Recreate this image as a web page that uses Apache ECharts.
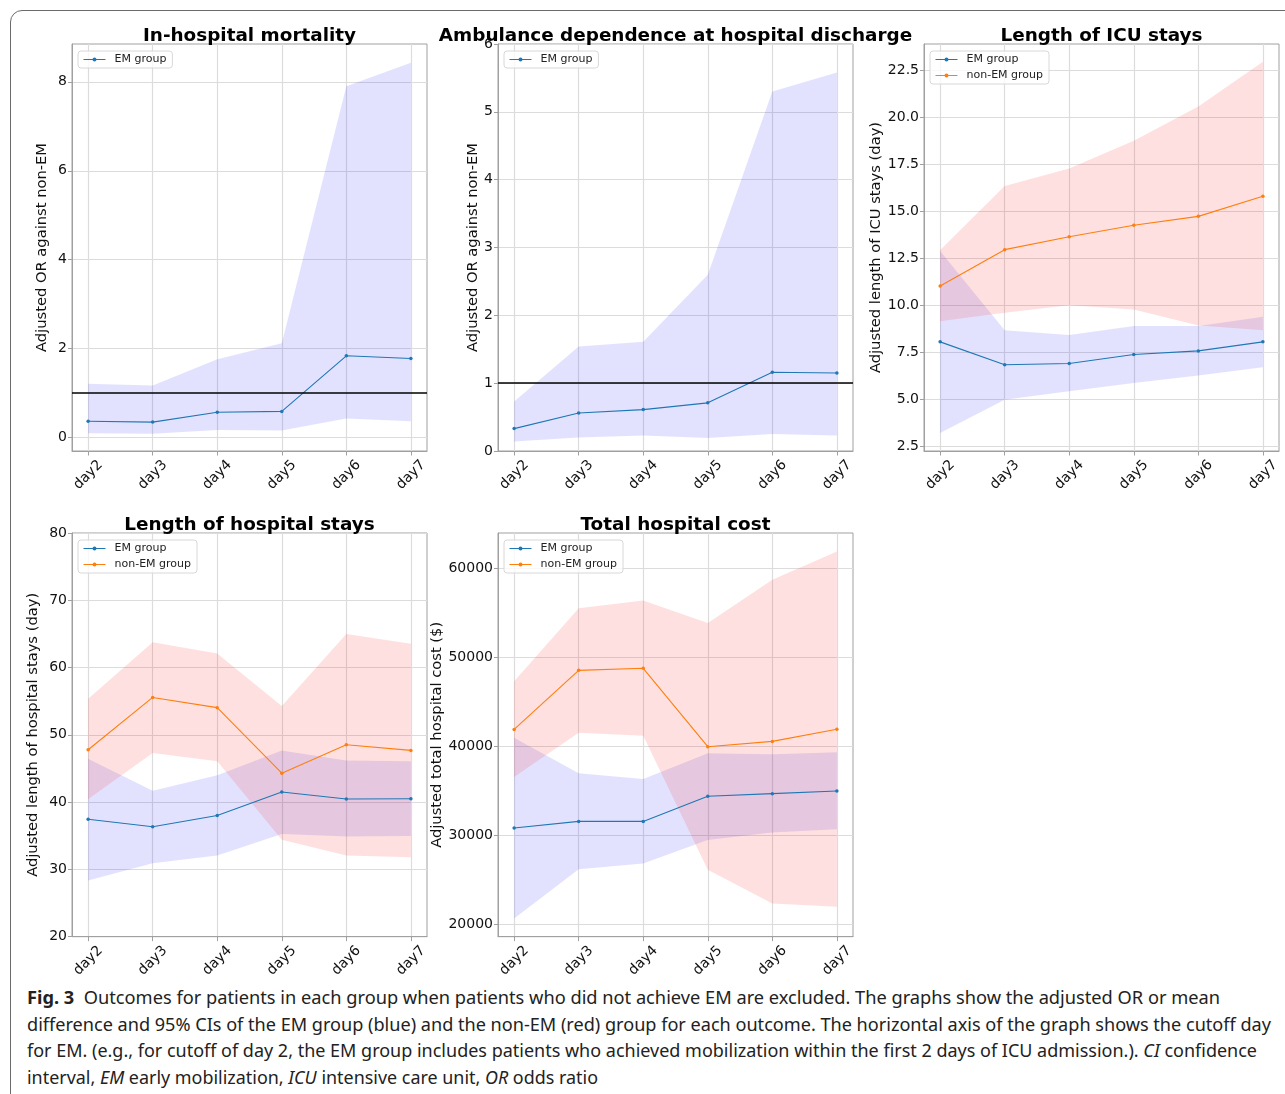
<!DOCTYPE html>
<html>
<head>
<meta charset="utf-8">
<title>Fig. 3</title>
<script src="https://cdn.jsdelivr.net/npm/echarts@6/dist/echarts.min.js"></script>
<style>
html, body { margin: 0; padding: 0; width: 1285px; height: 1094px; overflow: hidden; background: #fff; }
#frame { position: absolute; left: 10px; top: 10px; width: 1310px; height: 1120px; border: 1px solid #6b6b6b; border-radius: 12px; }
#chart { position: absolute; left: 0; top: 0; width: 1285px; height: 980px; }
#caption { position: absolute; left: 27px; top: 984px; font-family: 'Noto Sans', sans-serif; font-size: 18px; line-height: 26.6px; color: #222; }
#caption div { white-space: nowrap; width: max-content; transform-origin: 0 50%; }
#caption b { font-weight: 700; }
</style>
</head>
<body>
<div id="frame"></div>
<div id="chart"></div>
<div id="caption">
  <div data-w="1193"><b>Fig. 3</b>&nbsp; Outcomes for patients in each group when patients who did not achieve EM are excluded. The graphs show the adjusted OR or mean</div>
  <div data-w="1244">difference and 95% CIs of the EM group (blue) and the non-EM (red) group for each outcome. The horizontal axis of the graph shows the cutoff day</div>
  <div data-w="1230">for EM. (e.g., for cutoff of day 2, the EM group includes patients who achieved mobilization within the first 2 days of ICU admission.). <i>CI</i> confidence</div>
  <div data-w="571">interval, <i>EM</i> early mobilization, <i>ICU</i> intensive care unit, <i>OR</i> odds ratio</div>
</div>
<script>
// x categories (cutoff day)
const days = ['day2', 'day3', 'day4', 'day5', 'day6', 'day7']

// In-hospital mortality (adjusted OR)
const mortEm = [0.37, 0.35, 0.57, 0.59, 1.84, 1.78]
const mortEmLow = [0.10, 0.09, 0.17, 0.16, 0.43, 0.37]
const mortEmHigh = [1.21, 1.17, 1.76, 2.12, 7.90, 8.43]
const mortTicks = [0, 2, 4, 6, 8]

// Ambulance dependence at discharge (adjusted OR)
const ambEm = [0.33, 0.56, 0.61, 0.71, 1.16, 1.15]
const ambEmLow = [0.14, 0.20, 0.23, 0.19, 0.25, 0.23]
const ambEmHigh = [0.73, 1.54, 1.61, 2.60, 5.30, 5.58]
const ambTicks = [0, 1, 2, 3, 4, 5, 6]

// Length of ICU stays (day)
const icuEm = [8.07, 6.85, 6.92, 7.40, 7.59, 8.07]
const icuEmLow = [3.23, 5.00, 5.45, 5.89, 6.28, 6.72]
const icuEmHigh = [12.90, 8.69, 8.43, 8.91, 8.91, 9.40]
const icuNon = [11.04, 12.97, 13.66, 14.27, 14.74, 15.81]
const icuNonLow = [9.17, 9.62, 10.02, 9.79, 8.94, 8.69]
const icuNonHigh = [12.95, 16.36, 17.28, 18.76, 20.58, 22.96]
const icuTicks = [2.5, 5, 7.5, 10, 12.5, 15, 17.5, 20, 22.5]

// Length of hospital stays (day)
const hospEm = [37.46, 36.33, 38.0, 41.5, 40.46, 40.51]
const hospEmLow = [28.36, 30.92, 32.05, 35.25, 34.9, 34.95]
const hospEmHigh = [46.46, 41.69, 44.0, 47.69, 46.17, 46.07]
const hospNon = [47.79, 55.56, 54.04, 44.3, 48.53, 47.69]
const hospNonLow = [40.41, 47.3, 46.07, 34.41, 32.05, 31.8]
const hospNonHigh = [55.37, 63.78, 62.1, 54.28, 65.0, 63.53]
const hospTicks = [20, 30, 40, 50, 60, 70, 80]

// Total hospital cost ($)
const costEm = [30810, 31550, 31550, 34370, 34670, 34970]
const costEmLow = [20630, 26170, 26830, 29470, 30290, 30660]
const costEmHigh = [40950, 36970, 36300, 39200, 39090, 39310]
const costNon = [41880, 48520, 48750, 39940, 40540, 41910]
const costNonLow = [36530, 41500, 41170, 26130, 22340, 21970]
const costNonHigh = [47300, 55510, 56360, 53840, 58700, 61860]
const costTicks = [20000, 30000, 40000, 50000, 60000]

const FONT = 'DejaVu Sans'
const BLUE = '#1f77b4'
const ORANGE = '#ff7f0e'
const BLUE_CI = 'rgba(0, 0, 255, 0.115)'
const RED_CI = 'rgba(255, 0, 0, 0.12)'
const xIdx = days.map((d, i) => i)

const panels = [
  { title: 'In-hospital mortality', left: 72, top: 44, yName: 'Adjusted OR against non-EM', nameGap: 22,
    min: -0.3, max: 8.85, ticks: mortTicks, em: [mortEm, mortEmLow, mortEmHigh], refLine: true },
  { title: 'Ambulance dependence at hospital discharge', left: 498, top: 44, yName: 'Adjusted OR against non-EM', nameGap: 15,
    min: 0, max: 6, ticks: ambTicks, em: [ambEm, ambEmLow, ambEmHigh], refLine: true },
  { title: 'Length of ICU stays', left: 924, top: 44, yName: 'Adjusted length of ICU stays (day)', nameGap: 38,
    min: 2.27, max: 23.9, ticks: icuTicks, em: [icuEm, icuEmLow, icuEmHigh], non: [icuNon, icuNonLow, icuNonHigh], digits: 1 },
  { title: 'Length of hospital stays', left: 72, top: 533, yName: 'Adjusted length of hospital stays (day)', nameGap: 31,
    min: 20, max: 80, ticks: hospTicks, em: [hospEm, hospEmLow, hospEmHigh], non: [hospNon, hospNonLow, hospNonHigh] },
  { title: 'Total hospital cost', left: 498, top: 533, yName: 'Adjusted total hospital cost ($)', nameGap: 51,
    min: 18600, max: 63950, ticks: costTicks, em: [costEm, costEmLow, costEmHigh], non: [costNon, costNonLow, costNonHigh] }
]

const W = 355
const H = 407

let grid = []
let title = []
let legend = []
let xAxis = []
let yAxis = []
let series = []

// CI band: one polygon (upper edge forward, lower edge back) drawn through the axes
function band (i, low, high, color) {
  series.push({
    type: 'custom', xAxisIndex: i, yAxisIndex: i, silent: true, z: 1,
    data: xIdx.map(k => [k, low[k], high[k]]),
    encode: { x: 0, y: [1, 2] },
    renderItem: function (params, api) {
      if (params.dataIndexInside !== 0) return null
      const n = params.dataInsideLength
      let pts = []
      for (let j = 0; j < n; j++) pts.push(api.coord([api.value(0, j), api.value(2, j)]))
      for (let j = n - 1; j >= 0; j--) pts.push(api.coord([api.value(0, j), api.value(1, j)]))
      return { type: 'polygon', shape: { points: pts }, style: { fill: color } }
    }
  })
}

function mean (i, name, vals, color, refLine) {
  let s = {
    name: name, type: 'line', xAxisIndex: i, yAxisIndex: i,
    data: xIdx.map(k => [k, vals[k]]),
    symbol: 'circle', symbolSize: 3.5, showSymbol: true,
    lineStyle: { color: color, width: 1.1 }, itemStyle: { color: color }, z: 3
  }
  if (refLine) {
    s.markLine = {
      silent: true, symbol: ['none', 'none'], label: { show: false },
      lineStyle: { color: '#000', width: 1.6, type: 'solid' },
      data: [{ yAxis: 1 }]
    }
  }
  series.push(s)
}

panels.forEach((p, i) => {
  grid.push({ left: p.left, top: p.top, width: W, height: H, show: true, borderColor: '#a0a0a0', borderWidth: 1, backgroundColor: 'transparent' })
  title.push({
    text: p.title, left: p.left + W / 2, top: p.top - 17, textAlign: 'center', padding: 0,
    textStyle: { fontFamily: FONT, fontSize: 18.4, fontWeight: 'bold', color: '#000' }
  })
  legend.push({
    left: p.left + 6, top: p.top + 7, orient: 'vertical',
    data: p.non ? ['EM group', 'non-EM group'] : ['EM group'],
    itemWidth: 22, itemHeight: 5, itemGap: 5, padding: [3, 6, 3, 5],
    borderColor: '#d8d8d8', borderWidth: 1, borderRadius: 3, backgroundColor: 'rgba(255,255,255,0.8)',
    lineStyle: { width: 1 },
    textStyle: { fontFamily: FONT, fontSize: 11, color: '#222', padding: [0, 0, 0, 4] },
    selectedMode: false
  })
  xAxis.push({
    gridIndex: i, type: 'value', min: -0.25, max: 5.25,
    axisLine: { show: true, onZero: false, lineStyle: { color: '#a0a0a0' } },
    axisTick: { show: true, customValues: xIdx, length: 4.5, lineStyle: { color: '#a0a0a0' } },
    axisLabel: {
      customValues: xIdx, formatter: v => days[Math.round(v)], rotate: 45,
      align: 'center', verticalAlign: 'middle', margin: 24,
      fontFamily: FONT, fontSize: 14, color: '#111'
    },
    splitLine: { show: true, lineStyle: { color: '#dcdcdc', width: 1.2 } }
  })
  yAxis.push({
    gridIndex: i, type: 'value', min: p.min, max: p.max,
    name: p.yName, nameLocation: 'middle', nameGap: p.nameGap, nameRotate: 90,
    nameTextStyle: { fontFamily: FONT, fontSize: 14.7, color: '#111' },
    axisLine: { show: true, onZero: false, lineStyle: { color: '#a0a0a0' } },
    axisTick: { show: true, customValues: p.ticks, length: 4, lineStyle: { color: '#a0a0a0' } },
    axisLabel: {
      customValues: p.ticks, margin: 5,
      formatter: v => p.digits ? v.toFixed(p.digits) : String(v),
      fontFamily: FONT, fontSize: 14, color: '#111'
    },
    splitLine: { show: true, lineStyle: { color: '#dcdcdc', width: 1.2 } }
  })
  band(i, p.em[1], p.em[2], BLUE_CI)
  if (p.non) band(i, p.non[1], p.non[2], RED_CI)
  mean(i, 'EM group', p.em[0], BLUE, p.refLine)
  if (p.non) mean(i, 'non-EM group', p.non[0], ORANGE, false)
})

const myChart = echarts.init(document.getElementById('chart'))
myChart.setOption({
  animation: false,
  title: title,
  legend: legend,
  grid: grid,
  xAxis: xAxis,
  yAxis: yAxis,
  series: series
})

// stretch each caption line to the width it has in the figure
document.querySelectorAll('#caption div').forEach(el => {
  const w = el.getBoundingClientRect().width
  const target = Number(el.getAttribute('data-w'))
  el.style.transform = 'scaleX(' + (target / w) + ')'
})
</script>
</body>
</html>
